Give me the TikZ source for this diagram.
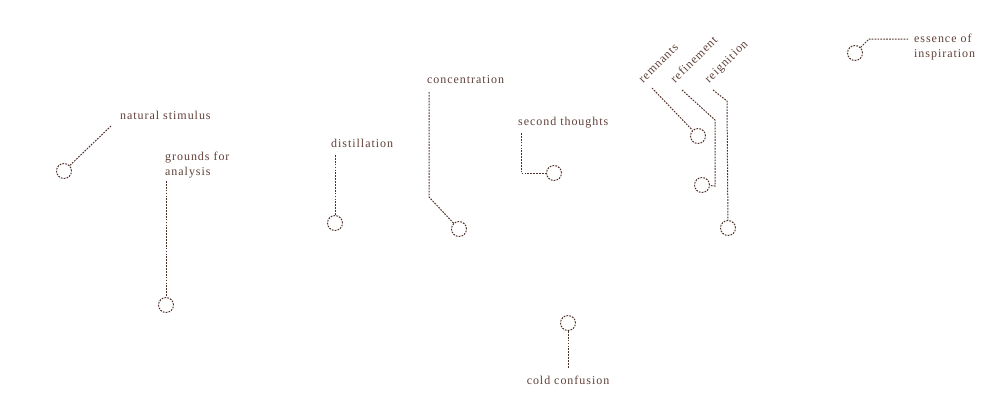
\documentclass[tikz,border=0pt]{standalone}
\usepackage{fontspec}
\setmainfont{Liberation Serif}[LetterSpace=8]
\definecolor{ink}{RGB}{80,50,42}
\definecolor{txt}{RGB}{96,64,56}
\tikzset{
  lbl/.style={inner sep=0pt, text=txt, font=\fontsize{12}{15}\selectfont},
  ring/.style={circle, draw=ink, line width=1pt, dash pattern=on 1.7pt off 1.2pt, minimum size=15pt, inner sep=0pt},
  lead/.style={draw=ink, line width=1pt, dash pattern=on 1.7pt off 1.2pt}
}
\begin{document}
\begin{tikzpicture}[x=1pt,y=-1pt]
\useasboundingbox (0,0) rectangle (1000,400);
% natural stimulus
\node[lbl, anchor=base west] (t1) at (120,119) {natural stimulus};
\node[ring] (c1) at (64,171) {};
\coordinate (p1) at (111,126);
\draw[lead] (p1) -- (c1);
% grounds for analysis
\node[lbl, anchor=north west, align=left] (t2) at (165,152) {grounds for\\analysis};
\node[ring] (c2) at (166,305) {};
\coordinate (p2) at (166,181);
\draw[lead] (p2) -- (c2);
% distillation
\node[lbl, anchor=base west] (t3) at (331,147) {distillation};
\node[ring] (c3) at (335,223) {};
\coordinate (p3) at (335,155);
\draw[lead] (p3) -- (c3);
% concentration
\node[lbl, anchor=base west] (t4) at (427,83) {concentration};
\node[ring] (c4) at (459,229) {};
\coordinate (p4a) at (429,92);
\coordinate (p4b) at (429,197);
\draw[lead] (p4a) -- (p4b) -- (c4);
% second thoughts
\node[lbl, anchor=base west] (t5) at (518,125) {second thoughts};
\node[ring] (c5) at (554,173) {};
\coordinate (p5a) at (521,133);
\coordinate (p5b) at (521,173);
\draw[lead] (p5a) -- (p5b) -- (c5);
% cold confusion
\node[lbl, anchor=base] (t6) at (568,384) {cold confusion};
\node[ring] (c6) at (568,323) {};
\coordinate (p6) at (568,368);
\draw[lead] (c6) -- (p6);
% remnants
\node[lbl, anchor=base west, rotate=45] (t7) at (643,84) {remnants};
\node[ring] (c7) at (698,136) {};
\coordinate (p7) at (652,88);
\draw[lead] (p7) -- (c7);
% refinement
\node[lbl, anchor=base west, rotate=45] (t8) at (675,84) {refinement};
\node[ring] (c8) at (702,185) {};
\coordinate (p8a) at (682,90);
\coordinate (p8b) at (715,120);
\coordinate (p8c) at (715,186);
\draw[lead] (p8a) -- (p8b) -- (p8c) -- (c8);
% reignition
\node[lbl, anchor=base west, rotate=45] (t9) at (709,84) {reignition};
\node[ring] (c9) at (728,228) {};
\coordinate (p9a) at (713,90);
\coordinate (p9b) at (727,101);
\draw[lead] (p9a) -- (p9b) -- (c9);
% essence of inspiration
\node[lbl, anchor=north west, align=left] (t10) at (914,34) {essence of\\inspiration};
\node[ring] (c10) at (855,53) {};
\coordinate (p10a) at (869,39);
\coordinate (p10b) at (908,39);
\draw[lead] (c10) -- (p10a) -- (p10b);
\end{tikzpicture}
\end{document}
